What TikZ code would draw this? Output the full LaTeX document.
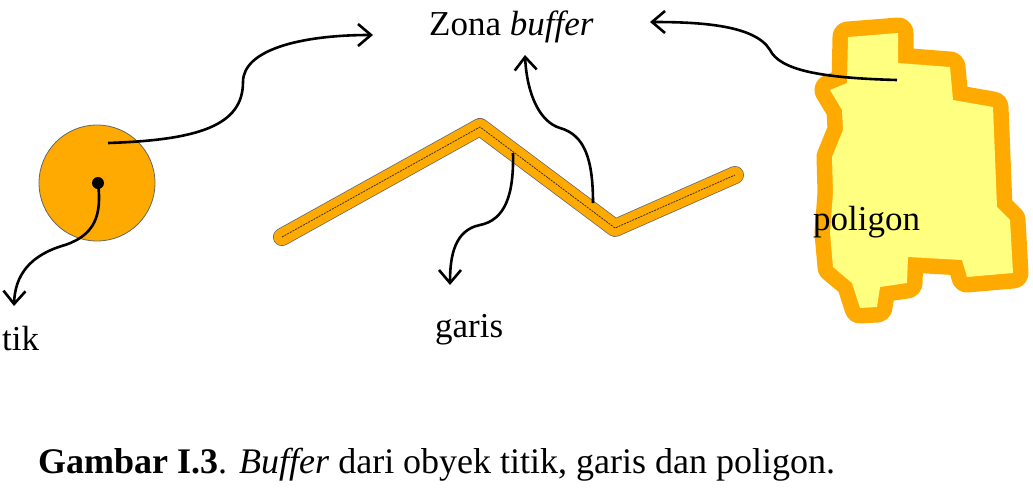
\documentclass[tikz,border=0pt]{standalone}
\usepackage{fontspec}
\setmainfont{Liberation Serif}
\usetikzlibrary{arrows.meta}

\definecolor{bufferorange}{RGB}{255,170,0}
\definecolor{polyyellow}{RGB}{255,255,128}

\tikzset{
    txt/.style={font=\fontsize{35}{40}\selectfont, inner sep=0pt, anchor=base west},
    pointer/.style={line width=2.6pt, -{Straight Barb[length=13pt, width=22pt, line width=2.6pt]}},
}

\begin{document}
\begin{tikzpicture}[x=1pt, y=-1pt]
    \useasboundingbox (0, 0) rectangle (1033, 490);

    % titik
    \fill[bufferorange, draw=black!60, line width=0.8pt] (97, 183) circle (58);
    \fill (98, 183) circle (6);
    \coordinate (dot) at (98, 183);
    \coordinate (circ) at (108, 143);

    % garis
    \draw[black!60, line width=18pt, line cap=round, line join=round]
    (282, 237) -- (480, 127) -- (615, 228) -- (735, 175);
    \draw[bufferorange, line width=16.5pt, line cap=round, line join=round]
    (282, 237) -- (480, 127) -- (615, 228) -- (735, 175);
    \draw[black!80, line width=0.8pt, dash pattern=on 2pt off 1pt]
    (282, 237) -- (480, 127) -- (615, 228) -- (735, 175);
    \coordinate (lineA) at (593, 203);
    \coordinate (lineB) at (513, 153);

    % poligon
    \filldraw[bufferorange, fill=polyyellow, line width=31pt, line join=round]
    (848, 37) -- (898, 33) -- (898, 63) -- (950, 67) -- (953, 100) --
    (993, 107) -- (997, 207) -- (1010, 220) -- (1013, 273) -- (967, 277) --
    (962, 260) -- (908, 257) -- (907, 283) -- (880, 287) -- (877, 307) --
    (860, 308) -- (852, 283) -- (833, 267) -- (830, 233) -- (833, 193) --
    (832, 157) -- (843, 130) -- (842, 110) -- (830, 90) -- (847, 83) -- cycle;
    \fill[polyyellow]
    (848, 37) -- (898, 33) -- (898, 63) -- (950, 67) -- (953, 100) --
    (993, 107) -- (997, 207) -- (1010, 220) -- (1013, 273) -- (967, 277) --
    (962, 260) -- (908, 257) -- (907, 283) -- (880, 287) -- (877, 307) --
    (860, 308) -- (852, 283) -- (833, 267) -- (830, 233) -- (833, 193) --
    (832, 157) -- (843, 130) -- (842, 110) -- (830, 90) -- (847, 83) -- cycle;
    \coordinate (poly) at (897, 80);

    \node[txt] (zona) at (429, 35) {Zona \textit{buffer}};
    \node[txt] (tik) at (2, 350) {tik};
    \node[txt] (garis) at (435, 337) {garis};
    \node[txt] (poligon) at (813, 230) {poligon};
    \node[txt, font=\fontsize{36}{42}\selectfont] (caption) at (38, 473)
    {\textbf{Gambar I.3}. \textit{Buffer} dari obyek titik, garis dan poligon.};

    \coordinate (zonaL) at (373, 35);
    \coordinate (zonaB) at (525, 55);
    \coordinate (zonaR) at (650, 22);
    \coordinate (tikT) at (14, 306);
    \coordinate (garisT) at (450, 285);

    \draw[pointer] (circ) .. controls (200, 140) and (243, 125) .. (243, 82)
    .. controls (243, 50) and (300, 35) .. (zonaL);
    \draw[pointer] (dot) .. controls (102, 215) and (95, 235) .. (65, 245)
    .. controls (30, 255) and (15, 275) .. (tikT);
    \draw[pointer] (lineA) .. controls (593, 160) and (585, 135) .. (560, 128)
    .. controls (540, 122) and (527, 95) .. (zonaB);
    \draw[pointer] (lineB) .. controls (514, 195) and (505, 220) .. (480, 225)
    .. controls (455, 230) and (450, 255) .. (garisT);
    \draw[pointer] (poly) .. controls (820, 78) and (780, 70) .. (770, 50)
    .. controls (755, 25) and (700, 22) .. (zonaR);
\end{tikzpicture}
\end{document}
